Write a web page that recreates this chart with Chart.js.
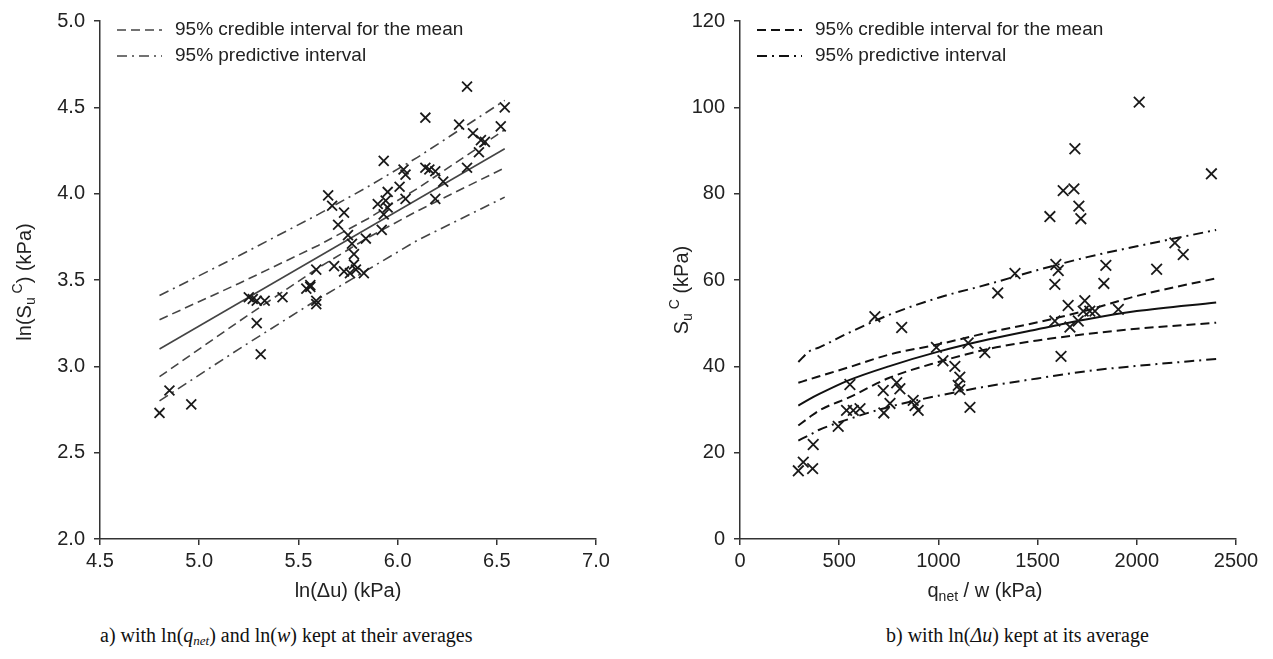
<!DOCTYPE html>
<html>
<head>
<meta charset="utf-8">
<script src="https://cdn.jsdelivr.net/npm/chart.js@4.4.1/dist/chart.umd.min.js"></script>
<style>
  html, body { margin:0; padding:0; background:#fff; }
  #wrap { position:relative; width:1273px; height:659px; overflow:hidden; background:#fff; }
  .cv { position:absolute; top:0; }
  .cap { position:absolute; top:624px; font-family:"Liberation Serif", "Times New Roman", serif; font-size:20px; color:#111; white-space:nowrap; }
  .cap sub { font-size:13px; vertical-align:-3px; }
</style>
</head>
<body>
<div id="wrap">
  <div class="cv" style="left:0;width:636px;height:620px;"><canvas id="c1" width="636" height="620"></canvas></div>
  <div class="cv" style="left:636px;width:637px;height:620px;"><canvas id="c2" width="637" height="620"></canvas></div>
  <div class="cap" style="left:100px;">a) with ln(<i>q<sub>net</sub></i>) and ln(<i>w</i>) kept at their averages</div>
  <div class="cap" style="left:886px;">b) with ln(<i>Δu</i>) kept at its average</div>
</div>
<script>
// ---------- Left panel data: ln(Δu) vs ln(Su^C) ----------
const leftLnDu = [4.80, 4.85, 4.96, 5.25, 5.27, 5.29, 5.33, 5.29, 5.31, 5.42,
                  5.54, 5.56, 5.59, 5.59, 5.59, 5.68, 5.73, 5.76, 5.79, 5.83,
                  5.78, 5.78, 5.77, 5.75, 5.84, 5.92, 5.70, 5.73, 5.67, 5.65,
                  5.90, 5.94, 5.95, 5.93, 5.93, 5.95, 6.01, 6.03, 6.04, 6.04,
                  6.14, 6.16, 6.19, 6.19, 6.23, 6.14, 6.31, 6.35, 6.35, 6.38,
                  6.42, 6.44, 6.41, 6.52, 6.54, 5.56];
const leftLnSu = [2.73, 2.86, 2.78, 3.40, 3.39, 3.38, 3.38, 3.25, 3.07, 3.40,
                  3.45, 3.46, 3.38, 3.36, 3.56, 3.58, 3.55, 3.54, 3.56, 3.54,
                  3.59, 3.65, 3.71, 3.76, 3.74, 3.79, 3.82, 3.89, 3.93, 3.99,
                  3.94, 3.96, 3.92, 3.88, 4.19, 4.01, 4.04, 4.14, 4.11, 3.97,
                  4.15, 4.14, 4.13, 3.97, 4.07, 4.44, 4.40, 4.62, 4.15, 4.35,
                  4.31, 4.30, 4.24, 4.39, 4.50, 3.47];
const leftFitX   = [4.80, 6.54];
const leftMean   = [3.10, 4.26];
const leftBandX  = [4.80, 5.20, 5.60, 5.85, 6.10, 6.54];
const leftCredUp = [3.27, 3.48, 3.70, 3.855, 4.03, 4.37];
const leftCredLo = [2.94, 3.26, 3.57, 3.745, 3.90, 4.15];
const leftPredUp = [3.41, 3.64, 3.88, 4.04, 4.21, 4.54];
const leftPredLo = [2.80, 3.10, 3.39, 3.56, 3.73, 3.98];
const leftXTicks = [4.5, 5.0, 5.5, 6.0, 6.5, 7.0];
const leftYTicks = [2.0, 2.5, 3.0, 3.5, 4.0, 4.5, 5.0];

// ---------- Right panel data: q_net/w vs Su^C ----------
const rightQw = [2012, 1688, 2376, 1629, 1683, 1708, 1718, 1562, 2192, 2234,
                 2100, 1844, 1834, 1592, 1604, 1587, 1386, 1299, 1654, 1738,
                 1730, 1763, 1789, 1907, 1587, 1663, 1705, 1618, 680, 815,
                 990, 1023, 1083, 1108, 1100, 1108, 1159, 1150, 1234, 554,
                 722, 790, 806, 756, 725, 873, 882, 898, 537, 571,
                 605, 495, 369, 319, 294, 366];
const rightSu = [101.2, 90.4, 84.6, 80.7, 81.1, 77.1, 74.2, 74.7, 68.6, 65.9,
                 62.5, 63.4, 59.2, 63.6, 62.2, 59.0, 61.5, 57.0, 54.1, 55.2,
                 52.8, 52.8, 52.8, 53.2, 50.5, 49.1, 50.5, 42.3, 51.5, 49.0,
                 44.4, 41.3, 40.0, 37.5, 35.6, 34.6, 30.5, 45.4, 43.2, 35.8,
                 34.4, 36.2, 34.8, 31.4, 29.2, 32.1, 30.9, 29.8, 29.8, 29.8,
                 30.2, 26.1, 21.9, 17.8, 15.8, 16.3];
const rightCurveX = [294, 350, 400, 550, 750, 1000, 1250, 1500, 1750, 2000, 2400];
const rightMean   = [30.9, 32.4, 33.6, 36.8, 40.0, 43.4, 46.2, 48.6, 50.9, 52.8, 54.8];
const rightCredUp = [36.2, 37.0, 37.7, 39.8, 42.7, 45.1, 47.8, 50.2, 53.0, 56.3, 60.4];
const rightCredLo = [26.3, 28.2, 29.8, 32.8, 37.3, 41.0, 44.0, 46.0, 47.5, 48.7, 50.1];
const rightPredUp = [41.0, 43.5, 44.4, 47.8, 51.9, 55.9, 59.0, 62.3, 65.3, 67.8, 71.6];
const rightPredLo = [22.8, 24.1, 25.3, 27.8, 30.6, 33.2, 35.4, 37.2, 38.9, 40.1, 41.7];
const rightXTicks = [0, 500, 1000, 1500, 2000, 2500];
const rightYTicks = [0, 20, 40, 60, 80, 100, 120];

const legendLabels = ['95% credible interval for the mean', '95% predictive interval'];
const DASH = [9, 5];
const DASHDOT = [10, 5, 2, 5];

function zip(xs, ys) { return xs.map((x, i) => ({ x: x, y: ys[i] })); }

function drawRich(ctx, segs, x, y, rotate, size, color) {
  ctx.save();
  ctx.translate(x, y);
  if (rotate) ctx.rotate(-Math.PI / 2);
  const fam = '"Liberation Sans", Arial, sans-serif';
  const fontOf = s => (s.k ? Math.round(size * 0.68) : size) + 'px ' + fam;
  let w = 0;
  segs.forEach(s => { ctx.font = fontOf(s); w += ctx.measureText(s.t).width; });
  let cx = -w / 2;
  ctx.fillStyle = color;
  ctx.textBaseline = 'middle';
  ctx.textAlign = 'left';
  segs.forEach(s => {
    ctx.font = fontOf(s);
    const dy = s.k === 'sub' ? size * 0.32 : (s.k === 'sup' ? -size * 0.36 : 0);
    ctx.fillText(s.t, cx, dy);
    cx += ctx.measureText(s.t).width;
  });
  ctx.restore();
}

function decorPlugin(cfg) {
  return {
    id: 'decor',
    afterDraw(chart) {
      const ctx = chart.ctx;
      const a = chart.chartArea;
      drawRich(ctx, cfg.xTitle, cfg.xTitlePos[0], cfg.xTitlePos[1], false, 20, '#222');
      drawRich(ctx, cfg.yTitle, cfg.yTitlePos[0], cfg.yTitlePos[1], true, 20, '#222');
      const rows = [[DASH, legendLabels[0], 9], [DASHDOT, legendLabels[1], 35]];
      rows.forEach(r => {
        const yy = a.top + r[2];
        ctx.save();
        ctx.strokeStyle = cfg.lineColor;
        ctx.lineWidth = cfg.lineWidth;
        ctx.setLineDash(r[0]);
        ctx.beginPath();
        ctx.moveTo(a.left + 17, yy);
        ctx.lineTo(a.left + 62, yy);
        ctx.stroke();
        ctx.restore();
        ctx.save();
        ctx.fillStyle = '#222';
        ctx.font = '19px "Liberation Sans", Arial, sans-serif';
        ctx.textBaseline = 'middle';
        ctx.fillText(r[1], a.left + 75, yy);
        ctx.restore();
      });
    }
  };
}

function lineDs(data, dash, color, width, tension) {
  return {
    type: 'line', data: data, showLine: true, pointRadius: 0, pointHoverRadius: 0,
    borderColor: color, borderWidth: width, borderDash: dash, fill: false,
    tension: tension, cubicInterpolationMode: tension ? 'monotone' : 'default', order: 2
  };
}

function makeChart(el, opts) {
  const axisColor = '#333';
  return new Chart(el, {
    type: 'scatter',
    data: {
      datasets: [
        {
          data: zip(opts.px, opts.py), showLine: false, pointStyle: 'crossRot',
          pointRadius: opts.markR, pointHoverRadius: opts.markR, borderColor: '#1a1a1a',
          borderWidth: 1.8, backgroundColor: 'transparent', order: 1
        },
        lineDs(zip(opts.meanX, opts.mean), [], opts.lineColor, opts.lineWidth, opts.tension),
        lineDs(zip(opts.bandX, opts.credUp), DASH, opts.lineColor, opts.lineWidth, opts.tension),
        lineDs(zip(opts.bandX, opts.credLo), DASH, opts.lineColor, opts.lineWidth, opts.tension),
        lineDs(zip(opts.bandX, opts.predUp), DASHDOT, opts.lineColor, opts.lineWidth, opts.tension),
        lineDs(zip(opts.bandX, opts.predLo), DASHDOT, opts.lineColor, opts.lineWidth, opts.tension)
      ]
    },
    options: {
      responsive: false, animation: false,
      layout: { padding: { top: 19, right: opts.padRight, left: 0, bottom: 0 } },
      plugins: { legend: { display: false }, tooltip: { enabled: false } },
      scales: {
        x: {
          type: 'linear', min: opts.xTicks[0], max: opts.xTicks[opts.xTicks.length - 1],
          afterBuildTicks: s => { s.ticks = opts.xTicks.map(v => ({ value: v })); },
          afterFit: s => { s.height = 81; },
          grid: { display: true, drawOnChartArea: false, drawTicks: true, tickLength: 6, color: axisColor, lineWidth: 1.5 },
          border: { display: true, color: axisColor, width: 1.5 },
          ticks: { padding: 4, color: '#222', font: { family: '"Liberation Sans", Arial, sans-serif', size: 20 },
                   callback: v => opts.xFmt(v), maxRotation: 0, autoSkip: false }
        },
        y: {
          type: 'linear', min: opts.yTicks[0], max: opts.yTicks[opts.yTicks.length - 1],
          afterBuildTicks: s => { s.ticks = opts.yTicks.map(v => ({ value: v })); },
          afterFit: s => { s.width = opts.yWidth; },
          grid: { display: true, drawOnChartArea: false, drawTicks: true, tickLength: 6, color: axisColor, lineWidth: 1.5 },
          border: { display: true, color: axisColor, width: 1.5 },
          ticks: { padding: 9, color: '#222', font: { family: '"Liberation Sans", Arial, sans-serif', size: 20 },
                   callback: v => opts.yFmt(v), autoSkip: false }
        }
      }
    },
    plugins: [decorPlugin(opts)]
  });
}

makeChart(document.getElementById('c1'), {
  px: leftLnDu, py: leftLnSu, markR: 7,
  meanX: leftFitX, mean: leftMean, bandX: leftBandX,
  credUp: leftCredUp, credLo: leftCredLo, predUp: leftPredUp, predLo: leftPredLo,
  xTicks: leftXTicks, yTicks: leftYTicks, xFmt: v => v.toFixed(1), yFmt: v => v.toFixed(1),
  lineColor: '#444', lineWidth: 1.6, tension: 0, padRight: 40, yWidth: 100,
  xTitle: [{ t: 'ln(Δu) (kPa)' }], xTitlePos: [348, 591],
  yTitle: [{ t: 'ln(S' }, { t: 'u', k: 'sub' }, { t: ' C', k: 'sup' }, { t: ') (kPa)' }], yTitlePos: [25, 282]
});

makeChart(document.getElementById('c2'), {
  px: rightQw, py: rightSu, markR: 7.5,
  meanX: rightCurveX, mean: rightMean, bandX: rightCurveX,
  credUp: rightCredUp, credLo: rightCredLo, predUp: rightPredUp, predLo: rightPredLo,
  xTicks: rightXTicks, yTicks: rightYTicks, xFmt: v => String(v), yFmt: v => String(v),
  lineColor: '#111', lineWidth: 2, tension: 0.4, padRight: 37, yWidth: 104,
  xTitle: [{ t: 'q' }, { t: 'net', k: 'sub' }, { t: ' / w (kPa)' }], xTitlePos: [349, 591],
  yTitle: [{ t: 'S' }, { t: 'u', k: 'sub' }, { t: ' C', k: 'sup' }, { t: ' (kPa)' }], yTitlePos: [46, 290]
});
</script>
</body>
</html>
